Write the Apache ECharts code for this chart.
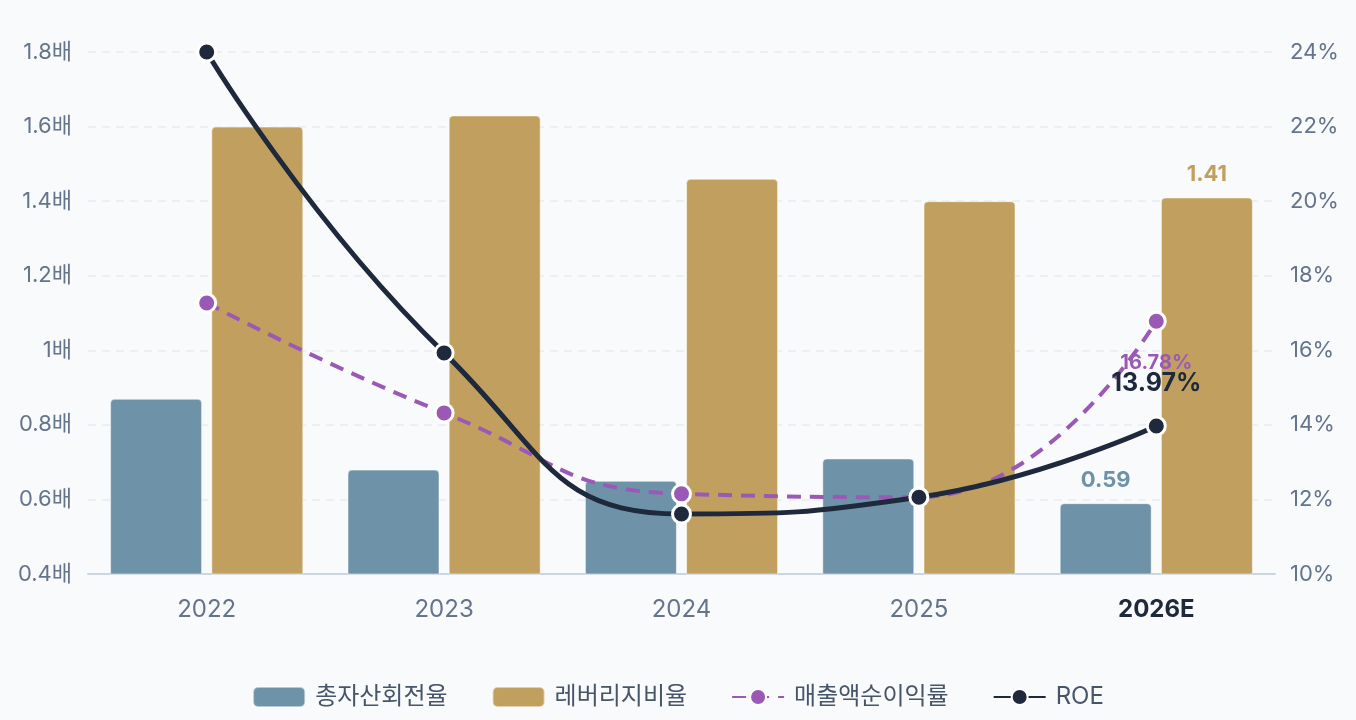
<!DOCTYPE html>
<html>
<head>
<meta charset="utf-8">
<script src="https://cdn.jsdelivr.net/npm/echarts@6/dist/echarts.min.js"></script>
<style>
html,body{margin:0;padding:0;background:#f8fafc;}
#c{width:1356px;height:720px;}
</style>
</head>
<body>
<div id="c"></div>
<script>
const categories = ['2022', '2023', '2024', '2025', '2026E'];
const assetTurnover = [0.87, 0.68, 0.65, 0.71, 0.59];
const leverage = [1.60, 1.63, 1.46, 1.40, 1.41];
const netMargin = [17.27, 14.32, 12.15, 12.06, 16.78];
const roe = [24.0, 15.93, 11.61, 12.06, 13.97];
const seriesNames = ['총자산회전율', '레버리지비율', '매출액순이익률', 'ROE'];

const FONT = 'Inter, "Noto Sans CJK KR", "Noto Sans", sans-serif';
const C_SLATE = '#6e93a9', C_TAN = '#c1a05f', C_PURPLE = '#9b59b6', C_DARK = '#1e293b', C_TEXT = '#64748b';
const last = categories.length - 1;

function withLastLabel(arr, label) {
  return arr.map((v, i) => i === last ? { value: v, label: Object.assign({ show: true }, label) } : v);
}

const chart = echarts.init(document.getElementById('c'));
chart.setOption({
  backgroundColor: '#f8fafc',
  textStyle: { fontFamily: FONT },
  grid: { left: 88, right: 81, top: 52, bottom: 146, containLabel: false },
  legend: {
    bottom: 6,
    left: 'center',
    itemWidth: 52,
    itemHeight: 20,
    itemGap: 44,
    textStyle: { fontFamily: FONT, fontSize: 24, color: '#475569', padding: [0, 0, 0, 5] },
    data: [
      { name: seriesNames[0], icon: 'roundRect' },
      { name: seriesNames[1], icon: 'roundRect' },
      { name: seriesNames[2] },
      { name: seriesNames[3] }
    ]
  },
  xAxis: {
    type: 'category',
    data: categories,
    axisLine: { lineStyle: { color: '#cbd5e1', width: 2 } },
    axisTick: { show: false },
    axisLabel: {
      margin: 24,
      fontSize: 24,
      color: C_TEXT,
      fontFamily: FONT,
      formatter: v => v === '2026E' ? '{b|' + v + '}' : v,
      rich: { b: { fontWeight: 'bold', color: C_DARK, fontSize: 24, fontFamily: FONT } }
    }
  },
  yAxis: [
    {
      type: 'value', min: 0.4, max: 1.8, interval: 0.2,
      axisLine: { show: false }, axisTick: { show: false },
      axisLabel: { margin: 16, fontSize: 22, color: C_TEXT, fontFamily: FONT, formatter: v => Number(v.toFixed(1)) + '배' },
      splitLine: { lineStyle: { color: '#e8ecf1', type: [8, 6], width: 1.5 } }
    },
    {
      type: 'value', min: 10, max: 24, interval: 2,
      axisLine: { show: false }, axisTick: { show: false },
      axisLabel: { margin: 15, fontSize: 22, color: C_TEXT, fontFamily: FONT, formatter: '{value}%' },
      splitLine: { show: false }
    }
  ],
  series: [
    {
      name: seriesNames[0], type: 'bar', yAxisIndex: 0,
      barWidth: 92, barGap: '10%',
      itemStyle: { color: C_SLATE, borderRadius: [4, 4, 0, 0], borderColor: 'rgba(255,255,255,0.5)', borderWidth: 1 },
      data: withLastLabel(assetTurnover, { position: 'top', distance: 12, color: C_SLATE, fontWeight: 'bold', fontSize: 22, fontFamily: FONT })
    },
    {
      name: seriesNames[1], type: 'bar', yAxisIndex: 0,
      barWidth: 92,
      itemStyle: { color: C_TAN, borderRadius: [4, 4, 0, 0], borderColor: 'rgba(255,255,255,0.5)', borderWidth: 1 },
      data: withLastLabel(leverage, { position: 'top', distance: 12, color: C_TAN, fontWeight: 'bold', fontSize: 22, fontFamily: FONT })
    },
    {
      name: seriesNames[2], type: 'line', yAxisIndex: 1, smooth: true, z: 3,
      symbol: 'circle', symbolSize: 18,
      lineStyle: { color: C_PURPLE, width: 4, type: [14, 9] },
      itemStyle: { color: C_PURPLE, borderColor: '#ffffff', borderWidth: 3 },
      data: withLastLabel(netMargin, { position: 'bottom', distance: 21, color: C_PURPLE, fontWeight: 'bold', fontSize: 20, fontFamily: FONT, formatter: p => p.value.toFixed(2) + '%' })
    },
    {
      name: seriesNames[3], type: 'line', yAxisIndex: 1, smooth: true, z: 4,
      symbol: 'circle', symbolSize: 18,
      lineStyle: { color: C_DARK, width: 5 },
      itemStyle: { color: C_DARK, borderColor: '#ffffff', borderWidth: 3 },
      data: withLastLabel(roe, { position: 'top', distance: 19, color: C_DARK, fontWeight: 'bold', fontSize: 25, fontFamily: FONT, formatter: p => p.value.toFixed(2) + '%' })
    }
  ]
});
</script>
</body>
</html>
